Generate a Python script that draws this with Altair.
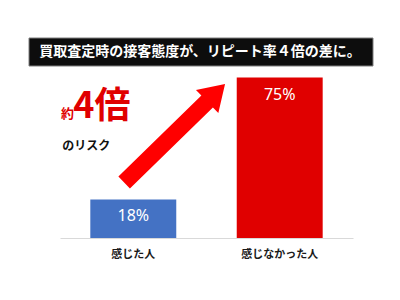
import altair as alt
import pandas as pd

categories = ["感じた人", "感じなかった人"]
values = [18, 75]
value_labels = ["18%", "75%"]
bar_colors = ["#4472C4", "#E00000"]
title_text = "買取査定時の接客態度が、リピート率４倍の差に。"
ratio_prefix = "約"
ratio_text = "4倍"
risk_text = "のリスク"

FONT = "Noto Sans CJK JP"

df = pd.DataFrame({"cat": categories, "val": values, "lab": value_labels})

x = alt.X(
    "cat:N",
    sort=categories,
    scale=alt.Scale(paddingInner=0.413, paddingOuter=0.207),
    axis=alt.Axis(
        title=None, labelAngle=0, ticks=False, grid=False,
        domainColor="#d9d9d9", domainWidth=1,
        labelFont=FONT, labelFontWeight="bold", labelFontSize=11,
        labelColor="#1a1a1a", labelPadding=10,
    ),
)
y = alt.Y("val:Q", scale=alt.Scale(domain=[0, 100]), axis=None)

bars = alt.Chart(df).mark_bar().encode(
    x=x, y=y,
    color=alt.Color("cat:N", scale=alt.Scale(domain=categories, range=bar_colors), legend=None),
)
labels = alt.Chart(df).mark_text(
    baseline="middle", dy=17, font="Noto Sans", fontSize=16, color="white"
).encode(x=x, y=y, text="lab:N")

arrow_path = ("M -1 -0.117 L 0.645 -0.117 L 0.645 -0.227 L 1 0 "
              "L 0.645 0.227 L 0.645 0.117 L -1 0.117 Z")
arrow = alt.Chart(pd.DataFrame({"a": [1]})).mark_point(
    shape=arrow_path, filled=True, color="#FF0000", opacity=1,
    strokeWidth=0, size=19881, angle=315.7,
).encode(x=alt.value(114.6), y=alt.value(109.25))

prefix = alt.Chart(pd.DataFrame({"t": [ratio_prefix]})).mark_text(
    align="left", baseline="alphabetic", font=FONT, fontWeight="bold",
    fontSize=13, color="#E00000",
).encode(x=alt.value(1), y=alt.value(93.5), text="t:N")

ratio = alt.Chart(pd.DataFrame({"t": [ratio_text]})).mark_text(
    align="left", baseline="alphabetic", font=FONT, fontWeight="bold",
    fontSize=36, color="#E00000",
).encode(x=alt.value(13.3), y=alt.value(94), text="t:N")

risk = alt.Chart(pd.DataFrame({"t": [risk_text]})).mark_text(
    align="left", baseline="middle", font=FONT, fontWeight="bold",
    fontSize=12, color="#111111",
).encode(x=alt.value(2.3), y=alt.value(121.5), text="t:N")

title_df = pd.DataFrame({"t": [title_text]})
title_box = alt.Chart(title_df).mark_rect(
    fill="#0d0d0d", stroke="#7f7f7f", strokeWidth=1
).encode(x=alt.value(-31), x2=alt.value(313), y=alt.value(14), y2=alt.value(42))
title = alt.Chart(title_df).mark_text(
    align="center", baseline="middle", font=FONT, fontWeight="bold",
    fontSize=14, color="white",
).encode(x=alt.value(140), y=alt.value(28), text="t:N")

chart = alt.layer(bars, labels, arrow, prefix, ratio, risk, title_box, title).properties(
    width=293, height=214,
    autosize=alt.AutoSizeParams(type="none"),
    padding={"left": 60, "top": 24, "right": 47, "bottom": 62},
    background="white",
).configure_view(stroke=None)

chart.save("out.html", embed_options={"renderer": "svg", "actions": False})
